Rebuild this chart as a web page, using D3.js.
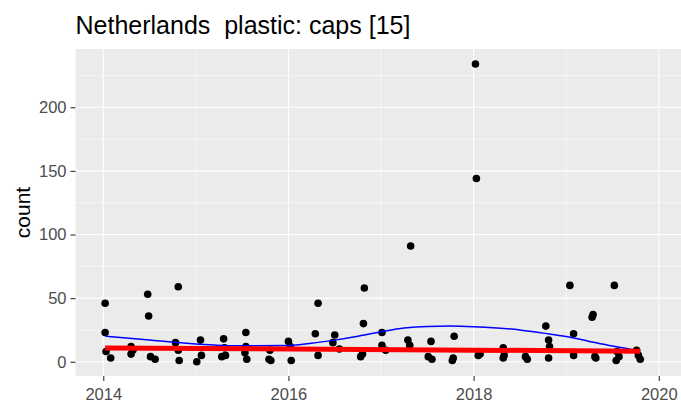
<!DOCTYPE html>
<html>
<head>
<meta charset="utf-8">
<script src="https://cdn.jsdelivr.net/npm/d3@7"></script>
<style>
  body { margin: 0; background: #fff; }
  text { font-family: "Liberation Sans", Arial, sans-serif; }
</style>
</head>
<body>
<svg id="svg-area"></svg>
<script>
/* 観測データ（年の小数表記, 個数） */
let sampleYears = [
  2014.02, 2014.02, 2014.03, 2014.08, 2014.30, 2014.30, 2014.32, 2014.48, 2014.49, 2014.51,
  2014.56, 2014.81, 2014.78, 2014.81, 2014.82, 2015.01, 2015.05, 2015.06, 2015.30, 2015.31,
  2015.28, 2015.32, 2015.54, 2015.54, 2015.53, 2015.55, 2015.79, 2015.81, 2015.80, 2016.00,
  2016.02, 2016.03, 2016.29, 2016.32, 2016.32, 2016.50, 2016.48, 2016.55, 2016.82, 2016.81,
  2016.78, 2016.80, 2017.01, 2017.01, 2017.05, 2017.29, 2017.31, 2017.32, 2017.54, 2017.51,
  2017.55, 2017.79, 2017.78, 2017.77, 2018.02, 2018.03, 2018.05, 2018.07, 2018.32, 2018.32,
  2018.33, 2018.56, 2018.58, 2018.78, 2018.81, 2018.82, 2018.81, 2019.04, 2019.08, 2019.08,
  2019.28, 2019.29, 2019.31, 2019.32, 2019.52, 2019.55, 2019.57, 2019.54, 2019.76, 2019.78,
  2019.80
];
let sampleCounts = [
  46, 23, 8, 3, 12, 6, 9, 53, 36, 4,
  2, 59, 15, 9, 1, 0, 17, 5, 18, 11,
  4, 5, 23, 12, 7, 2, 2, 1, 9, 16,
  12, 1, 22, 46, 5, 21, 15, 10, 58, 30,
  4, 6, 23, 13, 9, 17, 13, 91, 16, 4,
  2, 20, 3, 1, 234, 144, 5, 6, 11, 3,
  5, 4, 2, 28, 17, 12, 3, 60, 22, 5,
  35, 37, 4, 3, 60, 8, 4, 1, 9, 5,
  2
];

/* loess 曲線（青）を絵から読み取った値 */
let smoothYears = [2014.02, 2014.5, 2015, 2015.5, 2016, 2016.25, 2016.5, 2016.75, 2017, 2017.25,
  2017.5, 2017.75, 2018, 2018.25, 2018.5, 2018.75, 2019, 2019.25, 2019.5, 2019.8];
let smoothCounts = [20.2, 17, 14, 12.5, 12.8, 14.5, 17, 20, 23.5, 26.5,
  27.8, 28, 27.5, 26.5, 25, 22.5, 19.8, 16, 12.3, 8.5];

/* 直線回帰（赤）の両端 */
let trendYears = [2014.02, 2019.8];
let trendCounts = [10.9, 8.3];

/* 目盛り */
let xTicks = [2014, 2016, 2018, 2020];
let xMinor = [2015, 2017, 2019];
let yTicks = [0, 50, 100, 150, 200];
let yMinor = [25, 75, 125, 175, 225];

let titleText = "Netherlands  plastic: caps [15]";

let width = 681;
let height = 404;

let panel = { left: 75.5, right: 681, top: 49, bottom: 376 };

let svg = d3.select("#svg-area")
  .attr("width", width)
  .attr("height", height);

let xScale = d3.scaleLinear()
  .domain([2013.70, 2020.24])
  .range([panel.left, panel.right]);
let yScale = d3.scaleLinear()
  .domain([-11.2, 245.8])
  .range([panel.bottom, panel.top]);

/* パネル背景 */
svg.append("rect")
  .attr("x", panel.left)
  .attr("y", panel.top)
  .attr("width", panel.right - panel.left)
  .attr("height", panel.bottom - panel.top)
  .attr("fill", "#EBEBEB");

/* グリッド線 */
let grid = svg.append("g");
grid.selectAll(".ymin").data(yMinor).enter().append("line")
  .attr("x1", panel.left).attr("x2", panel.right)
  .attr("y1", d => yScale(d)).attr("y2", d => yScale(d))
  .attr("stroke", "#fff").attr("stroke-width", 0.55);
grid.selectAll(".xmin").data(xMinor).enter().append("line")
  .attr("y1", panel.top).attr("y2", panel.bottom)
  .attr("x1", d => xScale(d)).attr("x2", d => xScale(d))
  .attr("stroke", "#fff").attr("stroke-width", 0.55);
grid.selectAll(".ymaj").data(yTicks).enter().append("line")
  .attr("x1", panel.left).attr("x2", panel.right)
  .attr("y1", d => yScale(d)).attr("y2", d => yScale(d))
  .attr("stroke", "#fff").attr("stroke-width", 1.1);
grid.selectAll(".xmaj").data(xTicks).enter().append("line")
  .attr("y1", panel.top).attr("y2", panel.bottom)
  .attr("x1", d => xScale(d)).attr("x2", d => xScale(d))
  .attr("stroke", "#fff").attr("stroke-width", 1.1);

/* 点 */
svg.append("g")
  .selectAll("circle")
  .data(d3.range(sampleYears.length))
  .enter().append("circle")
  .attr("cx", i => xScale(sampleYears[i]))
  .attr("cy", i => yScale(sampleCounts[i]))
  .attr("r", 3.8)
  .attr("fill", "#000");

/* 青い平滑線 */
let smoothLine = d3.line()
  .x(i => xScale(smoothYears[i]))
  .y(i => yScale(smoothCounts[i]))
  .curve(d3.curveMonotoneX);
svg.append("path")
  .attr("d", smoothLine(d3.range(smoothYears.length)))
  .attr("fill", "none")
  .attr("stroke", "#0000FF")
  .attr("stroke-width", 1.5);

/* 赤い回帰直線 */
let trendLine = d3.line()
  .x(i => xScale(trendYears[i]))
  .y(i => yScale(trendCounts[i]));
svg.append("path")
  .attr("d", trendLine(d3.range(trendYears.length)))
  .attr("fill", "none")
  .attr("stroke", "#FF0000")
  .attr("stroke-width", 5);

/* x 軸 */
let xAxis = svg.append("g")
  .attr("transform", "translate(" + [0, panel.bottom].join(",") + ")")
  .call(d3.axisBottom(xScale).tickValues(xTicks).tickFormat(d3.format("d")).tickSize(5).tickPadding(7));
xAxis.select(".domain").remove();
xAxis.selectAll("line").attr("stroke", "#333").attr("stroke-width", 1.1);
xAxis.selectAll("text").attr("fill", "#4D4D4D").style("font-size", "16.5px");

/* y 軸 */
let yAxis = svg.append("g")
  .attr("transform", "translate(" + [panel.left, 0].join(",") + ")")
  .call(d3.axisLeft(yScale).tickValues(yTicks).tickSize(5).tickPadding(4));
yAxis.select(".domain").remove();
yAxis.selectAll("line").attr("stroke", "#333").attr("stroke-width", 1.1);
yAxis.selectAll("text").attr("fill", "#4D4D4D").style("font-size", "16.5px");

/* 軸タイトル */
svg.append("text")
  .attr("transform", "translate(30," + (panel.top + panel.bottom) / 2 + ") rotate(-90)")
  .attr("text-anchor", "middle")
  .style("font-size", "21px")
  .attr("fill", "#000")
  .text("count");

/* タイトル */
svg.append("text")
  .attr("x", panel.left)
  .attr("y", 34)
  .attr("xml:space", "preserve")
  .style("white-space", "pre")
  .style("font-size", "25px")
  .attr("fill", "#000")
  .text(titleText);
</script>
</body>
</html>
